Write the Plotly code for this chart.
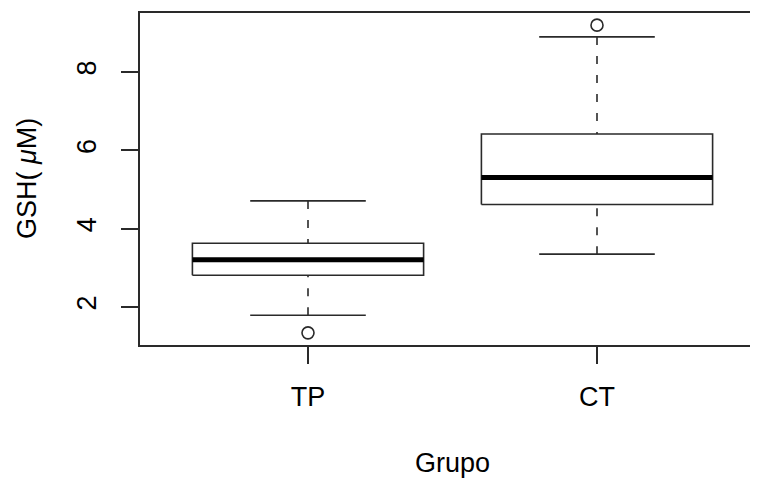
import plotly.graph_objects as go

# ---- data ----
groups = ["TP", "CT"]
positions = [1, 2]
lower_whisker = [1.79, 3.35]
q1 = [2.81, 4.62]
median = [3.21, 5.31]
q3 = [3.63, 6.42]
upper_whisker = [4.71, 8.90]
outliers = [[1.34], [9.20]]
y_ticks = [2, 4, 6, 8]

box_half = 0.4
cap_half = 0.2
FONT = "Liberation Sans, Arial, Helvetica, sans-serif"
FS = 27
LC = "#2a2a2a"

fig = go.Figure()

for i, g in enumerate(groups):
    x0 = positions[i]
    # dashed whiskers (drawn from whisker end toward the box, as R does)
    for ya, yb in [(upper_whisker[i], q3[i]), (lower_whisker[i], q1[i])]:
        fig.add_trace(go.Scatter(x=[x0, x0], y=[ya, yb], mode="lines",
                                 line=dict(color=LC, width=1.6, dash="8px,11px"),
                                 hoverinfo="skip", showlegend=False))
    # staples
    for yv in [upper_whisker[i], lower_whisker[i]]:
        fig.add_trace(go.Scatter(x=[x0 - cap_half, x0 + cap_half], y=[yv, yv], mode="lines",
                                 line=dict(color=LC, width=1.6),
                                 hoverinfo="skip", showlegend=False))
    # box
    fig.add_trace(go.Scatter(
        x=[x0 - box_half, x0 + box_half, x0 + box_half, x0 - box_half, x0 - box_half],
        y=[q1[i], q1[i], q3[i], q3[i], q1[i]], mode="lines",
        line=dict(color=LC, width=1.6), fill="toself", fillcolor="white",
        hoverinfo="skip", showlegend=False))
    # median
    fig.add_trace(go.Scatter(x=[x0 - box_half, x0 + box_half], y=[median[i], median[i]],
                             mode="lines", line=dict(color="black", width=5),
                             hoverinfo="skip", showlegend=False))
    # outliers
    fig.add_trace(go.Scatter(x=[x0] * len(outliers[i]), y=outliers[i], mode="markers",
                             marker=dict(symbol="circle-open", size=12,
                                         line=dict(color=LC, width=1.6), color=LC),
                             hoverinfo="skip", showlegend=False))

# the page body adds an 8px margin, so the figure is 8px smaller and shifted
fig.update_layout(
    width=750, height=471,
    margin=dict(l=132, r=0, t=5, b=134),
    paper_bgcolor="white", plot_bgcolor="white",
    font=dict(family=FONT, size=FS, color="black"),
    showlegend=False,
)
fig.update_xaxes(
    range=[1 - 168 / 289, 1 + 450 / 289],
    tickmode="array", tickvals=positions, ticktext=groups,
    ticks="outside", ticklen=17, tickwidth=1.6, tickcolor=LC,
    showline=True, mirror=True, linecolor=LC, linewidth=1.6,
    showgrid=False, zeroline=False, ticklabelstandoff=10,
    tickfont=dict(size=FS, family=FONT, color="black"),
)
fig.update_yaxes(
    range=[1.03, 9.51],
    tickmode="array", tickvals=y_ticks, ticktext=[str(t) for t in y_ticks],
    tickangle=-90,
    ticks="outside", ticklen=17, tickwidth=1.6, tickcolor=LC,
    showline=True, mirror=False, linecolor=LC, linewidth=1.6,
    showgrid=False, zeroline=False, ticklabelstandoff=14,
    tickfont=dict(size=FS, family=FONT, color="black"),
)
fig.add_annotation(text="GSH( <i>μ</i>M)", xref="paper", yref="paper",
                   x=0, y=0.5, xshift=-113, textangle=-90, showarrow=False,
                   xanchor="center", yanchor="middle",
                   font=dict(size=FS, family=FONT, color="black"))
fig.add_annotation(text="Grupo", xref="paper", yref="paper",
                   x=(452.5 - 140) / 618, y=0, yshift=-118, showarrow=False,
                   xanchor="center", yanchor="middle",
                   font=dict(size=FS, family=FONT, color="black"))

fig.write_html("out.html")
